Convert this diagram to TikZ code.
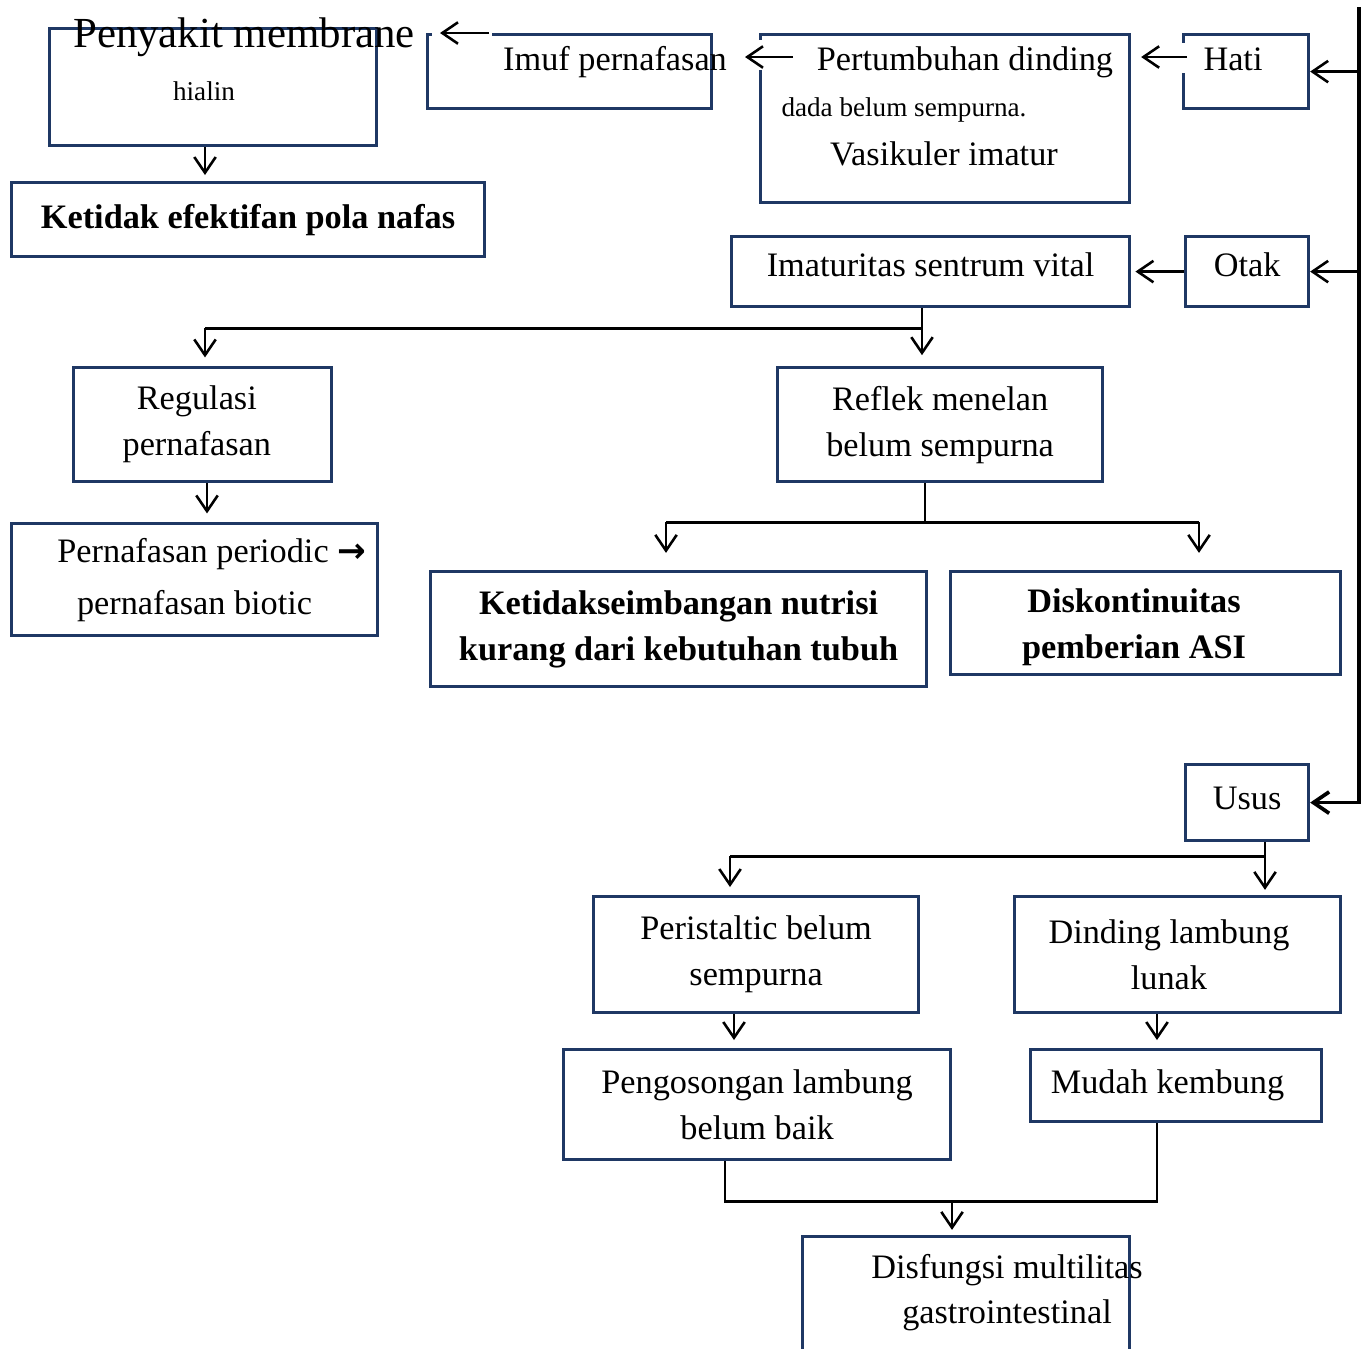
\documentclass[tikz,border=0pt]{standalone}
\usepackage{fontspec}
\setmainfont{Liberation Serif}
\newfontfamily\panah{DejaVu Sans}
\usetikzlibrary{arrows.meta}
\definecolor{kotak}{RGB}{31,56,100}

\begin{document}
\begin{tikzpicture}[x=0.35pt,y=-0.35pt,
    box/.style={rectangle,draw=kotak,line width=1.1pt,inner sep=0,anchor=north west,align=center,font=\fontsize{12}{16.1}\selectfont},
    tebal/.style={font=\fontsize{12}{16.1}\selectfont\bfseries},
    tulis/.style={inner sep=0,anchor=base,font=\fontsize{12}{16.1}\selectfont},
    kecil/.style={font=\fontsize{9.5}{12}\selectfont},
    arr/.style={-{Straight Barb[length=5.5pt,width=7.5pt]},line width=0.9pt},
    garis/.style={line width=1pt}]
    \useasboundingbox (0,0) rectangle (1367,1348);
    \clip (0,0) rectangle (1367,1348);
    \draw

    (48,27)node[box,minimum width=114.45pt,minimum height=40.95pt](pen){}
    (10,181)node[box,tebal,minimum width=165.55pt,minimum height=25.9pt](ket){Ketidak efektifan pola nafas}
    (426,33)node[box,minimum width=99.4pt,minimum height=25.9pt](imuf){}
    (759,33)node[box,minimum width=129.15pt,minimum height=58.8pt](pert){}
    (1182,33)node[box,minimum width=43.75pt,minimum height=25.9pt](hati){}
    (1184,235)node[box,minimum width=43.05pt,minimum height=24.5pt,text depth=4.9pt](otak){Otak}
    (730,235)node[box,minimum width=139.3pt,minimum height=24.5pt,text depth=4.9pt](imat){Imaturitas sentrum vital}
    (72,366)node[box,minimum width=90.3pt,minimum height=39.9pt](reg){Regulasi\hspace*{4pt}\\pernafasan\hspace*{4pt}}
    (10,522)node[box,minimum width=128.1pt,minimum height=39.2pt,font=\fontsize{12}{18.2}\selectfont](pern){\hspace*{12pt}Pernafasan periodic {\panah\bfseries →}\\pernafasan biotic}
    (776,366)node[box,minimum width=113.75pt,minimum height=39.9pt](refl){Reflek menelan\\belum sempurna}
    (429,570)node[box,tebal,minimum width=173.6pt,minimum height=40.25pt](keti){Ketidakseimbangan nutrisi\\kurang dari kebutuhan tubuh}
    (949,570)node[box,tebal,minimum width=136.5pt,minimum height=36.05pt](disk){}
    (1184,763)node[box,minimum width=43.05pt,minimum height=26.6pt,text depth=2.8pt](usus){Usus}
    (592,895)node[box,minimum width=113.75pt,minimum height=40.6pt](peri){Peristaltic belum\\sempurna}
    (1013,895)node[box,minimum width=114.1pt,minimum height=40.6pt](ding){Dinding lambung\hspace*{6pt}\\lunak\hspace*{6pt}}
    (562,1048)node[box,minimum width=135.45pt,minimum height=38.5pt](peng){Pengosongan lambung\\belum baik}
    (1029,1048)node[box,minimum width=101.85pt,minimum height=25.2pt](mud){Mudah kembung\hspace*{6pt}}
    (801,1235)node[box,minimum width=114.45pt,minimum height=47.25pt](dis){}

    (244,47)node[tulis,font=\fontsize{15}{18}\selectfont](pentxt){Penyakit membrane}
    (204,100)node[tulis,kecil](hialin){hialin}
    (615,70)node[tulis](imuftxt){Imuf pernafasan}
    (965,70)node[tulis](perttxt){Pertumbuhan dinding}
    (904,116)node[tulis,kecil](dadatxt){dada belum sempurna.}
    (944,165)node[tulis](vastxt){Vasikuler imatur}
    (1233,70)node[tulis](hatitxt){Hati}
    (1134,612)node[tulis,tebal](disktxt){Diskontinuitas}
    (1134,658)node[tulis,tebal](asitxt){pemberian ASI}
    (1007,1278)node[tulis](distxt){Disfungsi multilitas}
    (1007,1323)node[tulis](gastxt){gastrointestinal}

    (pen.south west)++(157,0)coordinate(a1)
    (ket.north west)++(195,-6)coordinate(a2)
    (imuf.north west)++(63,0)coordinate(b1)
    (imuf.north west)++(14,0)coordinate(b2)
    (pert.north west)++(34,24)coordinate(c1)
    (pert.north west)++(-14,24)coordinate(c2)
    (hati.north west)++(5,24)coordinate(d1)
    (pert.north east)++(10,24)coordinate(d2)
    (hati.north east)++(49,-26)coordinate(m0)
    (imat.south west)++(192,0)coordinate(e1)
    (e1)++(0,20)coordinate(e2)
    (reg.north west)++(133,0)coordinate(e3)
    (reg.south west)++(135,0)coordinate(r1)
    (refl.south west)++(149,0)coordinate(f1)
    (f1)++(0,39)coordinate(f2)
    (keti.north west)++(237,0)coordinate(f3)
    (disk.north west)++(250,0)coordinate(f4)
    (usus.south west)++(81,0)coordinate(g1)
    (g1)++(0,14)coordinate(g2)
    (peri.north west)++(138,0)coordinate(g3)
    (peri.south west)++(142,0)coordinate(k1)
    (ding.south west)++(144,0)coordinate(k2)
    (peng.south west)++(163,0)coordinate(n1)
    (mud.south west)++(128,0)coordinate(n2)
    (n1)++(0,40)coordinate(n3)
    (dis.north west)++(151,0)coordinate(n4)
    ;
    % gaps under the arrows
    \draw[white,line width=2pt](imuf.north west)++(6,0)--++(60,0);
    \draw[white,line width=2pt](pert.north west)++(0,7)--++(0,30);
    \draw[white,line width=2pt](hati.north west)++(0,10)--++(0,30);

    \draw[arr](a1)--(a2);
    \draw[arr](b1)--(b2);
    \draw[arr](c1)--(c2);
    \draw[arr](d1)--(d2);
    \draw[arr](hati.east -| m0)--(hati.east);
    \draw[arr](otak.east -| m0)--(otak.east);
    \draw[arr,line width=1.3pt](m0)--(m0 |- usus.east)--(usus.east);
    \draw[arr,shorten >=1.5pt](otak)--(imat);

    \draw[arr,shorten >=3.8pt](e1)--(e1 |- refl.north);
    \draw[garis](e2)--(e2 -| e3);
    \draw[arr,shorten >=3pt](e2 -| e3)--(e3);
    \draw[arr,shorten >=3pt](r1)--(r1 |- pern.north);

    \draw[garis](f1)--(f2);
    \draw[garis](f2 -| f3)--(f2 -| f4);
    \draw[arr,shorten >=6pt](f2 -| f3)--(f3);
    \draw[arr,shorten >=6pt](f2 -| f4)--(f4);

    \draw[arr,shorten >=1.8pt](g1)--(g1 |- ding.north);
    \draw[garis](g2)--(g2 -| g3);
    \draw[arr,shorten >=2.8pt](g2 -| g3)--(g3);
    \draw[arr,shorten >=2.8pt](k1)--(k1 |- peng.north);
    \draw[arr,shorten >=2.8pt](k2)--(k2 |- mud.north);

    \draw[garis](n1)--(n3)--(n2 |- n3)--(n2);
    \draw[arr,shorten >=1.8pt](n3 -| n4)--(n4);

\end{tikzpicture}
\end{document}
